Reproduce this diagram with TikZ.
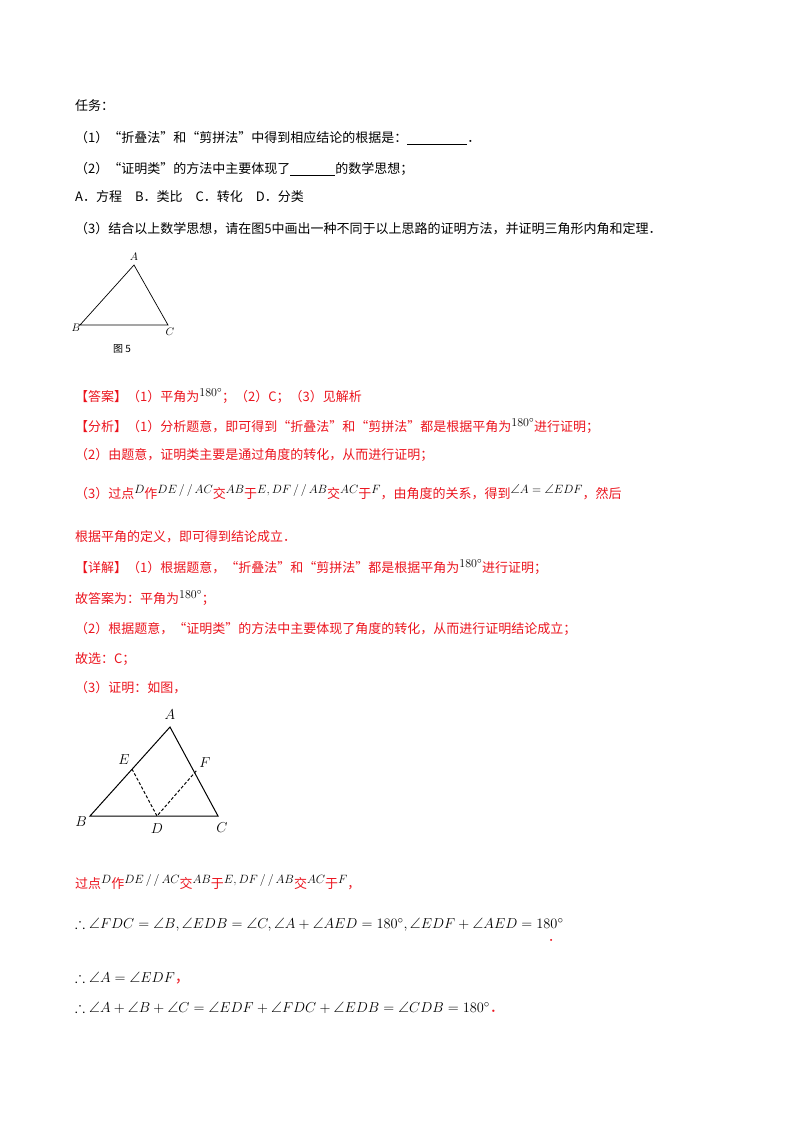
\documentclass[tikz,border=0pt]{standalone}
\usepackage{amssymb}
\usepackage{fontspec}
\setmainfont{Noto Sans CJK SC}
\usepackage{xcolor}
\definecolor{ans}{RGB}{235,20,30}
\newcommand{\up}[1]{\raisebox{5pt}{\textcolor{black}{$#1$}}}
\begin{document}
\begin{tikzpicture}[x=1pt,y=-1pt,
  t/.style={anchor=west,inner sep=0pt,font=\fontsize{13}{15}\selectfont},
  r/.style={t,text=ans},
  m/.style={anchor=west,inner sep=0pt,font=\fontsize{15}{17}\selectfont},
  lab/.style={inner sep=0pt,font=\fontsize{15}{15}\selectfont},
  seg/.style={line width=1pt}]
\useasboundingbox (0,0) rectangle (800,1132);
\node[t] (l1) at (75,106) {任务：};
\node[t] (l2) at (75,138) {（1）“折叠法”和“剪拼法”中得到相应结论的根据是：\rule[-2pt]{60pt}{0.9pt}．};
\node[t] (l3) at (75,169) {（2）“证明类”的方法中主要体现了\rule[-2pt]{45pt}{0.9pt}的数学思想；};
\node[t] (l4) at (75,197) {A．方程\quad B．类比\quad C．转化\quad D．分类};
\node[t] (l5) at (75,229) {（3）结合以上数学思想，请在图5中画出一种不同于以上思路的证明方法，并证明三角形内角和定理．};
% triangle 1
\coordinate (A1) at (134,265); \coordinate (B1) at (80,325); \coordinate (C1) at (168,325);
\draw[line width=0.7pt] (A1) -- (B1) -- (C1) -- cycle;
\node[lab,font=\fontsize{11}{11}\selectfont] (a1) at (134,257) {$A$};
\node[lab,font=\fontsize{11}{11}\selectfont] (b1) at (76,328) {$B$};
\node[lab,font=\fontsize{11}{11}\selectfont] (c1) at (170,332) {$C$};
\node[t,font=\fontsize{10}{10}\selectfont] (f5) at (113,349) {图 5};
% answers
\node[r] (r1) at (75,396) {【答案】（1）平角为\up{180^\circ}；（2）C；（3）见解析};
\node[r] (r2) at (75,426) {【分析】（1）分析题意，即可得到“折叠法”和“剪拼法”都是根据平角为\up{180^\circ}进行证明；};
\node[r] (r3) at (75,455) {（2）由题意，证明类主要是通过角度的转化，从而进行证明；};
\node[r] (r4) at (75,492) {（3）过点\up{D}作\up{DE\,/\,/\,AC}交\up{AB}于\up{E,DF\,/\,/\,AB}交\up{AC}于\up{F}，由角度的关系，得到\up{\angle A=\angle EDF}，然后};
\node[r] (r5) at (75,537) {根据平角的定义，即可得到结论成立．};
\node[r] (r6) at (75,567) {【详解】（1）根据题意，“折叠法”和“剪拼法”都是根据平角为\up{180^\circ}进行证明；};
\node[r] (r7) at (75,598) {故答案为：平角为\up{180^\circ}；};
\node[r] (r8) at (75,629) {（2）根据题意，“证明类”的方法中主要体现了角度的转化，从而进行证明结论成立；};
\node[r] (r9) at (75,659) {故选：C；};
\node[r] (r10) at (75,688) {（3）证明：如图，};
% triangle 2
\coordinate (A) at (170,727); \coordinate (B) at (90,816); \coordinate (C) at (218,816);
\coordinate (E) at (132,769); \coordinate (F) at (197,770); \coordinate (D) at (157,816);
\draw[seg] (A) -- (B) -- (C) -- cycle;
\draw[seg,densely dashed] (E) -- (D) -- (F);
\node[lab] (la) at (170,715) {$A$};
\node[lab] (lb) at (81,822) {$B$};
\node[lab] (lc) at (222,828) {$C$};
\node[lab] (ld) at (157,829) {$D$};
\node[lab] (le) at (124,760) {$E$};
\node[lab] (lf) at (205,763) {$F$};
% proof
\node[r] (p1) at (75,882) {过点\up{D}作\up{DE\,/\,/\,AC}交\up{AB}于\up{E,DF\,/\,/\,AB}交\up{AC}于\up{F}，};
\node[m] (p2) at (75,925) {$\therefore\angle FDC=\angle B,\angle EDB=\angle C,\angle A+\angle AED=180^\circ,\angle EDF+\angle AED=180^\circ$};
\node[r] (dot) at (548,940) {．};
\node[m] (p3) at (75,978) {$\therefore\angle A=\angle EDF$\textcolor{ans}{，}};
\node[m] (p4) at (75,1008) {$\therefore\angle A+\angle B+\angle C=\angle EDF+\angle FDC+\angle EDB=\angle CDB=180^\circ$\textcolor{ans}{．}};
\end{tikzpicture}
\end{document}
